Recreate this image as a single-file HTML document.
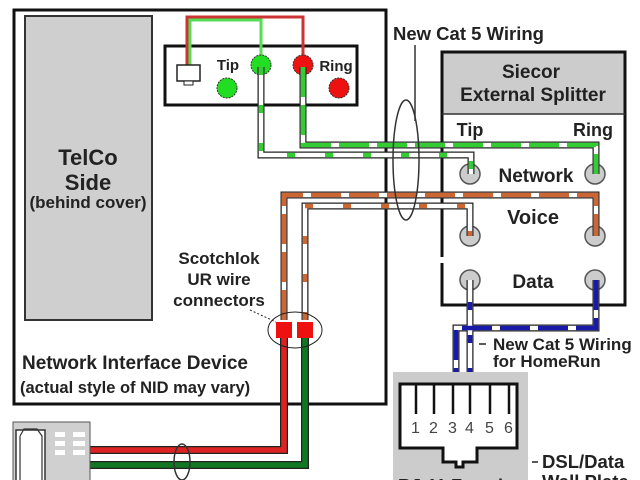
<!DOCTYPE html>
<html><head><style>body{margin:0;background:#fff}svg{display:block}text{font-family:"Liberation Sans",sans-serif;font-weight:bold;fill:#222}</style></head><body>
<svg width="640" height="480" viewBox="0 0 640 480" xmlns="http://www.w3.org/2000/svg">
<rect width="640" height="480" fill="#fff"/>
<!-- NID -->
<rect x="14" y="10" width="372" height="394" fill="#fff" stroke="#111" stroke-width="3"/>
<rect x="25" y="16" width="127" height="304" fill="#cfcfcf" stroke="#333" stroke-width="2"/>
<text x="88" y="165" font-size="22" text-anchor="middle">TelCo</text>
<text x="88" y="190" font-size="22" text-anchor="middle">Side</text>
<text x="88" y="208" font-size="17" text-anchor="middle">(behind cover)</text>
<rect x="165" y="46" width="192" height="59" fill="#fff" stroke="#111" stroke-width="3"/>
<!-- top wires -->
<polyline points="187,72 187,17 303,17 303,60" fill="none" stroke="#c33" stroke-width="3"/>
<polyline points="190,72 190,20 261,20 261,60" fill="none" stroke="#5d5" stroke-width="3"/>
<rect x="177" y="65" width="23" height="16" fill="#fff" stroke="#222" stroke-width="1.5"/>
<rect x="184" y="81" width="9" height="4" fill="#fff" stroke="#222" stroke-width="1"/>
<text x="228" y="70" font-size="15" text-anchor="middle">Tip</text>
<text x="336" y="71" font-size="15" text-anchor="middle">Ring</text>
<circle cx="261" cy="65" r="10" fill="#2d2" stroke="#333" stroke-dasharray="2,1"/>
<circle cx="303" cy="65" r="10" fill="#e11" stroke="#333" stroke-dasharray="2,1"/>
<circle cx="227" cy="88" r="10" fill="#2d2" stroke="#333" stroke-dasharray="2,1"/>
<circle cx="339" cy="88" r="10" fill="#e11" stroke="#333" stroke-dasharray="2,1"/>
<!-- splitter -->
<rect x="442" y="52" width="183" height="253" fill="#fff" stroke="#111" stroke-width="3"/>
<rect x="443.5" y="53.5" width="180" height="61" fill="#ccc"/>
<line x1="442" y1="114" x2="625" y2="114" stroke="#333" stroke-width="1.5"/>
<rect x="440" y="257" width="5" height="6" fill="#fff"/>
<text x="531" y="78" font-size="19" text-anchor="middle">Siecor</text>
<text x="533" y="101" font-size="19" text-anchor="middle">External Splitter</text>
<text x="470" y="136" font-size="18" text-anchor="middle">Tip</text>
<text x="593" y="136" font-size="18" text-anchor="middle">Ring</text>
<text x="536" y="182" font-size="19" text-anchor="middle">Network</text>
<text x="533" y="224" font-size="20" text-anchor="middle">Voice</text>
<text x="533" y="288" font-size="19" text-anchor="middle">Data</text>
<g fill="#ccc" stroke="#555" stroke-width="1.5">
<circle cx="470" cy="174" r="10"/><circle cx="595" cy="174" r="10"/>
<circle cx="470" cy="236" r="10"/><circle cx="595" cy="236" r="10"/>
<circle cx="470" cy="280" r="10"/><circle cx="595" cy="280" r="10"/>
</g>
<!-- wires -->
<g fill="none" stroke-linejoin="miter">
<g stroke="#222" stroke-width="7">
<polyline points="261,67 261,155 471,155 471,174"/>
<polyline points="303,67 303,145 596,145 596,174"/>
<polyline points="284,320 284,195 596,195 596,236"/>
<polyline points="305,320 305,206 470,206 470,236"/>
<polyline points="470,280 470,383"/>
<polyline points="596,280 596,328 456,328 456,383"/>
</g>
<g stroke="#fff" stroke-width="4.5">
<polyline points="261,67 261,155 471,155 471,174"/>
<polyline points="303,67 303,145 596,145 596,174"/>
<polyline points="284,320 284,195 596,195 596,236"/>
<polyline points="305,320 305,206 470,206 470,236"/>
<polyline points="470,280 470,383"/>
<polyline points="596,280 596,328 456,328 456,383"/>
</g>
<polyline points="261,67 261,155 471,155 471,174" stroke="#3c3" stroke-width="4.5" stroke-dasharray="8,30"/>
<polyline points="303,67 303,145 596,145 596,174" stroke="#3c3" stroke-width="4.5" stroke-dasharray="30,8"/>
<polyline points="284,320 284,195 596,195 596,236" stroke="#c63" stroke-width="4.5" stroke-dasharray="30,8"/>
<polyline points="305,320 305,206 470,206 470,236" stroke="#c63" stroke-width="4.5" stroke-dasharray="8,30"/>
<polyline points="470,280 470,383" stroke="#1a1aa8" stroke-width="4.5" stroke-dasharray="8,25" stroke-dashoffset="-22"/>
<polyline points="596,280 596,328 456,328 456,383" stroke="#1a1aa8" stroke-width="4.5" stroke-dasharray="30,8"/>
<polyline points="284,330 284,450 90,450" stroke="#222" stroke-width="8"/>
<polyline points="284,330 284,450 90,450" stroke="#d22" stroke-width="5.5"/>
<polyline points="305,330 305,465 90,465" stroke="#222" stroke-width="8"/>
<polyline points="305,330 305,465 90,465" stroke="#172" stroke-width="5.5"/>
</g>
<!-- scotchlok -->
<ellipse cx="295" cy="330" rx="27" ry="18" fill="none" stroke="#222" stroke-width="1"/>
<rect x="276" y="322" width="16" height="16" fill="#e11"/>
<rect x="297" y="322" width="16" height="16" fill="#e11"/>
<line x1="250" y1="310" x2="276" y2="322" stroke="#222" stroke-dasharray="2,2"/>
<text x="219" y="264" font-size="17" text-anchor="middle">Scotchlok</text>
<text x="219" y="285" font-size="17" text-anchor="middle">UR wire</text>
<text x="219" y="306" font-size="17" text-anchor="middle">connectors</text>
<text x="22" y="369" font-size="19">Network Interface Device</text>
<text x="20" y="393" font-size="16.5">(actual style of NID may vary)</text>
<!-- cat5 label -->
<ellipse cx="406" cy="160" rx="13" ry="60" fill="none" stroke="#333" stroke-width="1.5"/>
<line x1="415" y1="45" x2="415" y2="121" stroke="#333" stroke-width="1.5"/>
<text x="393" y="40" font-size="18.5">New Cat 5 Wiring</text>
<line x1="479" y1="344" x2="486" y2="344" stroke="#222" stroke-width="1.5"/>
<text x="493" y="350" font-size="17">New Cat 5 Wiring</text>
<text x="493" y="367" font-size="17">for HomeRun</text>
<!-- wall plate -->
<rect x="393" y="372" width="135" height="110" fill="#ccc"/>
<path d="M400,384 H517 V448 H477 V462 H463 V467 H456 V462 H443 V448 H400 Z" fill="#fff" stroke="#111" stroke-width="3"/>
<g stroke="#111" stroke-width="2.5">
<line x1="416" y1="384" x2="416" y2="414"/><line x1="434" y1="384" x2="434" y2="414"/><line x1="453" y1="384" x2="453" y2="414"/><line x1="470" y1="384" x2="470" y2="414"/><line x1="490" y1="384" x2="490" y2="414"/><line x1="509" y1="384" x2="509" y2="414"/>
</g>
<g font-size="16"><text x="411" y="433" style="font-weight:normal;fill:#444">1</text><text x="429" y="433" style="font-weight:normal;fill:#444">2</text><text x="448" y="433" style="font-weight:normal;fill:#444">3</text><text x="465" y="433" style="font-weight:normal;fill:#444">4</text><text x="485" y="433" style="font-weight:normal;fill:#444">5</text><text x="504" y="433" style="font-weight:normal;fill:#444">6</text></g>
<line x1="532" y1="462" x2="538" y2="462" stroke="#222" stroke-width="1.5"/>
<text x="542" y="468" font-size="18.5">DSL/Data</text>
<text x="542" y="488" font-size="18.5">Wall Plate</text>
<text x="398" y="492" font-size="18">RJ-11 Female</text>
<!-- phone -->
<rect x="13" y="422" width="77" height="62" fill="#d0d0d0" stroke="#555" stroke-width="1"/>
<path d="M16,430 H45 V485 H16 Z" fill="#fff" stroke="#333" stroke-width="1.5"/>
<path d="M20,436 L24,429 H37 L42,436 V485 M20,436 V485" fill="none" stroke="#333" stroke-width="1.2"/>
<g fill="#fff"><rect x="55" y="432" width="10" height="5"/><rect x="73" y="432" width="12" height="5"/><rect x="55" y="441" width="10" height="5"/><rect x="73" y="441" width="12" height="5"/><rect x="55" y="450" width="10" height="5"/><rect x="73" y="450" width="12" height="5"/></g>
<ellipse cx="182" cy="462" rx="8" ry="18" fill="none" stroke="#333" stroke-width="1.5"/>
</svg>
</body></html>
